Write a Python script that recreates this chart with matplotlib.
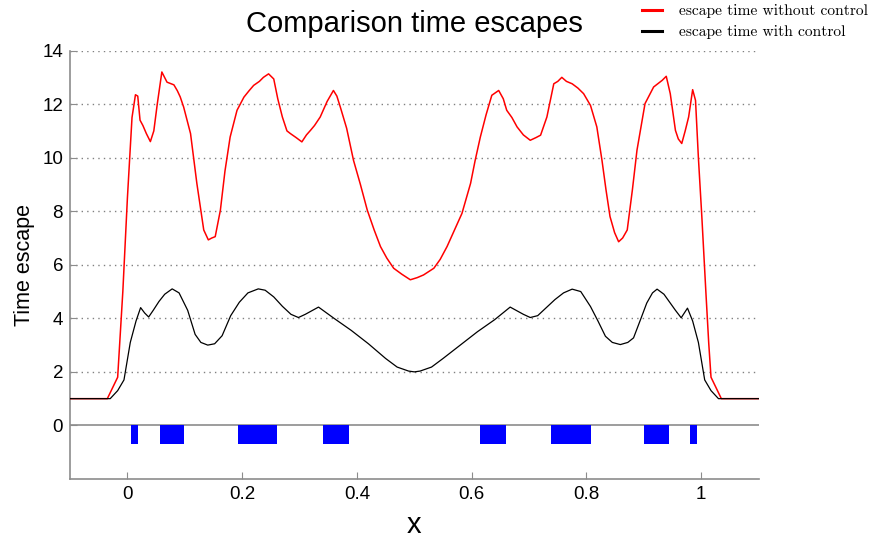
import matplotlib
matplotlib.use("Agg")
import matplotlib.pyplot as plt

# escape time without control (red)
x_red = [-0.1, -0.035, -0.017, -0.008, 0.0, 0.008, 0.014, 0.018, 0.022, 0.027, 0.033, 0.04,
         0.046, 0.052, 0.06, 0.069, 0.081, 0.087, 0.092, 0.098, 0.110, 0.121, 0.133, 0.141,
         0.147, 0.153, 0.162, 0.170, 0.179, 0.191, 0.203, 0.212, 0.220, 0.230, 0.237, 0.246,
         0.255, 0.262, 0.270, 0.278, 0.284, 0.294, 0.304, 0.312, 0.319, 0.326, 0.336, 0.348,
         0.359, 0.365, 0.371, 0.382, 0.394, 0.406, 0.418, 0.430, 0.441, 0.452, 0.464, 0.478,
         0.493, 0.505, 0.516, 0.534, 0.545, 0.557, 0.570, 0.583, 0.598, 0.606, 0.615, 0.625,
         0.635, 0.647, 0.655, 0.661, 0.670, 0.679, 0.690, 0.702, 0.712, 0.720, 0.731, 0.743,
         0.750, 0.757, 0.765, 0.775, 0.785, 0.795, 0.807, 0.818, 0.827, 0.834, 0.841, 0.849,
         0.856, 0.863, 0.871, 0.880, 0.888, 0.902, 0.917, 0.932, 0.939, 0.946, 0.955, 0.960,
         0.966, 0.972, 0.978, 0.985, 0.990, 0.995, 1.001, 1.008, 1.013, 1.017, 1.035, 1.1]
y_red = [1.0, 1.0, 1.8, 5.0, 8.5, 11.5, 12.35, 12.3, 11.4, 11.2, 10.9, 10.6,
         11.0, 12.0, 13.2, 12.82, 12.72, 12.5, 12.27, 11.89, 10.9, 9.04, 7.3, 6.93,
         7.0, 7.05, 8.04, 9.5, 10.77, 11.77, 12.26, 12.5, 12.7, 12.85, 13.0, 13.13,
         12.94, 12.2, 11.52, 11.0, 10.9, 10.75, 10.59, 10.85, 11.02, 11.2, 11.52, 12.1,
         12.51, 12.3, 11.89, 11.1, 9.9, 9.0, 8.04, 7.3, 6.68, 6.25, 5.87, 5.65,
         5.44, 5.52, 5.62, 5.87, 6.2, 6.68, 7.3, 7.92, 9.04, 9.9, 10.77, 11.6,
         12.33, 12.51, 12.2, 11.77, 11.5, 11.15, 10.85, 10.65, 10.75, 10.84, 11.52, 12.76,
         12.85, 13.0, 12.85, 12.76, 12.6, 12.39, 11.95, 11.15, 9.9, 8.8, 7.8, 7.2,
         6.86, 7.0, 7.3, 8.8, 10.28, 12.02, 12.64, 12.89, 13.04, 12.39, 11.02, 10.7,
         10.53, 11.0, 11.52, 12.54, 12.14, 10.0, 7.8, 5.0, 3.08, 1.8, 1.0, 1.0]

# escape time with control (black)
x_black = [-0.1, -0.035, -0.03, -0.017, -0.006, 0.005, 0.015, 0.023, 0.03, 0.037, 0.045, 0.055,
           0.065, 0.078, 0.09, 0.105, 0.118, 0.128, 0.14, 0.152, 0.165, 0.18, 0.195, 0.21,
           0.228, 0.24, 0.255, 0.27, 0.285, 0.298, 0.31, 0.333, 0.36, 0.39, 0.42, 0.45,
           0.47, 0.49, 0.5, 0.51, 0.53, 0.55, 0.58, 0.61, 0.64, 0.667, 0.69, 0.702,
           0.715, 0.73, 0.745, 0.76, 0.775, 0.79, 0.807, 0.82, 0.833, 0.845, 0.859, 0.872,
           0.882, 0.895, 0.905, 0.915, 0.923, 0.935, 0.945, 0.955, 0.965, 0.976, 0.985, 0.995,
           1.006, 1.017, 1.03, 1.1]
y_black = [1.0, 1.0, 1.0, 1.3, 1.7, 3.1, 3.9, 4.4, 4.2, 4.05, 4.3, 4.63,
           4.9, 5.1, 4.95, 4.3, 3.4, 3.1, 3.0, 3.05, 3.35, 4.1, 4.6, 4.95,
           5.1, 5.05, 4.8, 4.45, 4.15, 4.03, 4.15, 4.42, 4.0, 3.55, 3.05, 2.5,
           2.18, 2.03, 2.0, 2.03, 2.18, 2.5, 3.0, 3.5, 3.95, 4.42, 4.15, 4.03,
           4.1, 4.4, 4.7, 4.95, 5.09, 5.0, 4.44, 3.9, 3.33, 3.1, 3.02, 3.1,
           3.27, 4.0, 4.57, 4.95, 5.09, 4.9, 4.6, 4.3, 4.02, 4.38, 3.9, 3.1,
           1.7, 1.3, 1.0, 1.0]

# control regions (blue blocks below zero)
ctrl_start = [0.007, 0.056, 0.192, 0.341, 0.615, 0.739, 0.901, 0.981]
ctrl_end = [0.019, 0.099, 0.261, 0.387, 0.660, 0.808, 0.944, 0.993]
ctrl_depth = -0.7

fig = plt.figure(figsize=(8.7, 5.38), dpi=100)
ax = fig.add_axes([0.0805, 0.1097, 0.7915, 0.7963])

widths = [e - s for s, e in zip(ctrl_start, ctrl_end)]
ax.bar(ctrl_start, [ctrl_depth] * len(ctrl_start), width=widths, align="edge",
       color="#0000ff", edgecolor="none", zorder=2)

l1, = ax.plot(x_red, y_red, color="#ff0000", lw=1.1, zorder=3)
l2, = ax.plot(x_black, y_black, color="black", lw=0.9, zorder=3)

ax.axhline(0, color="#8c8c8c", lw=1.2, zorder=1)

ax.set_xlim(-0.1, 1.1)
ax.set_ylim(-2, 14)
ax.set_yticks(range(0, 15, 2))
ax.set_xticks([0, 0.2, 0.4, 0.6, 0.8, 1])
ax.set_xticklabels(["0", "0.2", "0.4", "0.6", "0.8", "1"])
for y in range(2, 15, 2):
    ax.axhline(y, color="#808080", lw=1.0, ls=(0, (1, 3)), zorder=0)

for s in ["top", "right"]:
    ax.spines[s].set_visible(False)
for s in ["left", "bottom"]:
    ax.spines[s].set_color("#8c8c8c")
    ax.spines[s].set_linewidth(1.2)
ax.tick_params(direction="in", color="#8c8c8c", labelsize=13.5, length=5, pad=5,
               labelfontfamily="Liberation Sans")

ax.set_xlabel("x", fontsize=21, family="Liberation Sans", labelpad=6)
ax.set_ylabel("Time escape", fontsize=15.5, family="Liberation Sans", labelpad=5)
ax.set_title("Comparison time escapes", fontsize=21, family="Liberation Sans", pad=13.5)

leg = fig.legend([l1, l2], ["escape time without control", "escape time with control"],
                 loc="upper right", bbox_to_anchor=(1.0, 0.995), frameon=False,
                 prop={"family": "cmr10", "size": 11.2}, handlelength=1.3, handleheight=0.5,
                 handletextpad=1.1, labelspacing=0.45, borderaxespad=0, borderpad=0.1)
for h in leg.legend_handles:
    h.set_linewidth(2.2)

fig.savefig("out.png", dpi=100)
